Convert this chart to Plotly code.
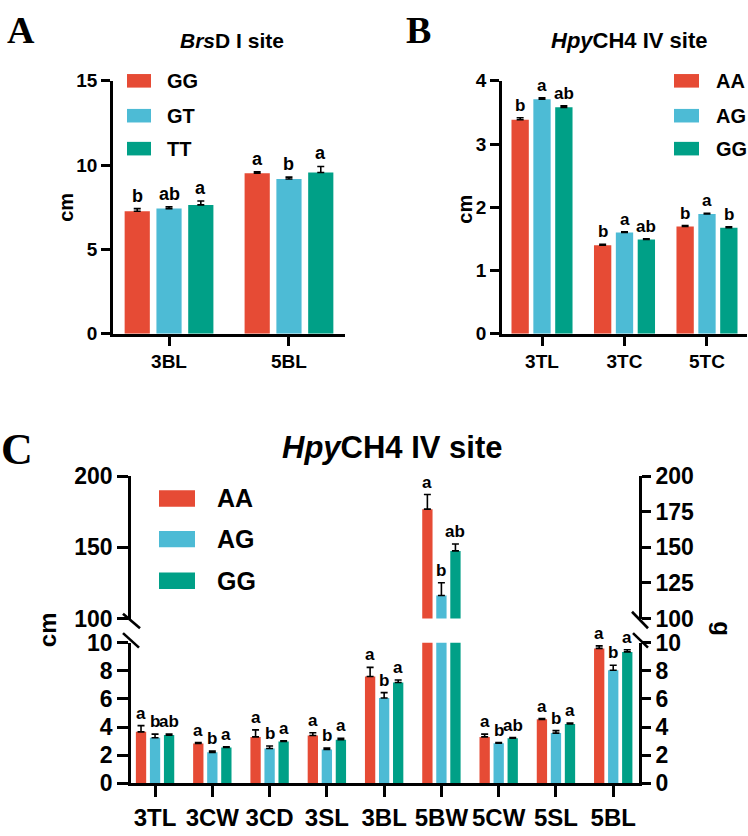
import plotly.graph_objects as go

# ---------------- data ----------------
colors = ["#E64B35", "#4DBBD5", "#00A087"]

# Panel A: BrsD I site
cats_A = ["3BL", "5BL"]
geno_A = ["GG", "GT", "TT"]
mean_A_GG = [7.26, 9.52]
mean_A_GT = [7.42, 9.18]
mean_A_TT = [7.64, 9.56]
err_A_GG = [0.16, 0.08]
err_A_GT = [0.11, 0.11]
err_A_TT = [0.23, 0.36]
let_A_GG = ["b", "a"]
let_A_GT = ["ab", "b"]
let_A_TT = ["a", "a"]

# Panel B: HpyCH4 IV site
cats_B = ["3TL", "3TC", "5TC"]
geno_B = ["AA", "AG", "GG"]
mean_B_AA = [3.385, 1.40, 1.695]
mean_B_AG = [3.71, 1.60, 1.895]
mean_B_GG = [3.58, 1.49, 1.675]
err_B_AA = [0.03, 0.015, 0.015]
err_B_AG = [0.02, 0.01, 0.01]
err_B_GG = [0.025, 0.01, 0.015]
let_B_AA = ["b", "b", "b"]
let_B_AG = ["a", "a", "a"]
let_B_GG = ["ab", "ab", "b"]

# Panel C: HpyCH4 IV site
cats_C = ["3TL", "3CW", "3CD", "3SL", "3BL", "5BW", "5CW", "5SL", "5BL"]
geno_C = ["AA", "AG", "GG"]
mean_C_AA = [3.66, 2.83, 3.30, 3.40, 7.60, 176.8, 3.30, 4.55, 9.60]
mean_C_AG = [3.24, 2.20, 2.47, 2.40, 6.07, 116.2, 2.85, 3.57, 8.05]
mean_C_GG = [3.43, 2.55, 2.97, 3.10, 7.17, 147.5, 3.20, 4.22, 9.35]
err_C_AA = [0.44, 0.07, 0.50, 0.20, 0.65, 10.3, 0.20, 0.05, 0.18]
err_C_AG = [0.26, 0.10, 0.18, 0.10, 0.38, 8.9, 0.05, 0.18, 0.35]
err_C_GG = [0.07, 0.05, 0.06, 0.10, 0.18, 4.8, 0.05, 0.06, 0.15]
let_C_AA = ["a", "a", "a", "a", "a", "a", "a", "a", "a"]
let_C_AG = ["b", "b", "b", "b", "b", "b", "b", "b", "b"]
let_C_GG = ["ab", "a", "a", "a", "a", "ab", "ab", "a", "a"]

# ---------------- helpers ----------------
W, H = 748, 836
def px(p):
    return p / W
def py(p):
    return 1 - p / H

FONT = "Liberation Sans, Arial, sans-serif"
SERIF = "Liberation Serif, Times New Roman, serif"

fig = go.Figure()
annotations = []
shapes = []

def add_panel(cats, genos, means, errs, lets, xa, ya, bar_w, slot, fsize, extra_axes=None, seg=None):
    n = len(cats)
    start = -(slot * (len(genos) - 1) + bar_w) / 2
    for i, (g, m, e, l) in enumerate(zip(genos, means, errs, lets)):
        off = start + i * slot
        axes_list = [(xa, ya)] + (extra_axes or [])
        for (xx, yy) in axes_list:
            fig.add_trace(go.Bar(
                x=cats, y=m, name=g, width=bar_w, offset=off,
                marker=dict(color=colors[i], line=dict(width=0)),
                error_y=dict(type="data", array=e, arrayminus=[0] * n, symmetric=False,
                             color="black", thickness=1.6, width=3.5),
                xaxis=xx, yaxis=yy, showlegend=False, hoverinfo="skip"))
        for j in range(n):
            top = m[j] + e[j]
            xr, yr = xa, ya
            if seg is not None:
                xr, yr = seg(top)
            annotations.append(dict(
                x=j + (i - 1) * slot, y=top, xref=xr, yref=yr,
                text="<b>%s</b>" % l[j], showarrow=False, yanchor="bottom",
                yshift=1, font=dict(family=FONT, size=fsize, color="black")))

def legend(genos, x0, x1, ys, h, tx, fsize):
    for i, g in enumerate(genos):
        shapes.append(dict(type="rect", xref="paper", yref="paper",
                           x0=px(x0), x1=px(x1), y0=py(ys[i] + h / 2), y1=py(ys[i] - h / 2),
                           fillcolor=colors[i], line=dict(width=0)))
        annotations.append(dict(x=px(tx), y=py(ys[i]), xref="paper", yref="paper",
                                text="<b>%s</b>" % g, showarrow=False, xanchor="left",
                                yanchor="middle", font=dict(family=FONT, size=fsize, color="black")))

# Panel A
add_panel(cats_A, geno_A, [mean_A_GG, mean_A_GT, mean_A_TT], [err_A_GG, err_A_GT, err_A_TT],
          [let_A_GG, let_A_GT, let_A_TT], "x", "y", 0.21, 0.265, 18)
# Panel B
add_panel(cats_B, geno_B, [mean_B_AA, mean_B_AG, mean_B_GG], [err_B_AA, err_B_AG, err_B_GG],
          [let_B_AA, let_B_AG, let_B_GG], "x2", "y2", 0.21, 0.265, 17)
# Panel C (broken axis: lower x3/y3, upper x4/y5)
add_panel(cats_C, geno_C, [mean_C_AA, mean_C_AG, mean_C_GG], [err_C_AA, err_C_AG, err_C_GG],
          [let_C_AA, let_C_AG, let_C_GG], "x3", "y3", 0.18, 0.245, 17,
          extra_axes=[("x4", "y5")],
          seg=lambda t: ("x3", "y3") if t <= 10 else ("x4", "y5"))
# dummy traces so right-hand axes are drawn
fig.add_trace(go.Scatter(x=cats_C, y=[None] * len(cats_C), xaxis="x3", yaxis="y4",
                         showlegend=False, hoverinfo="skip"))
fig.add_trace(go.Scatter(x=cats_C, y=[None] * len(cats_C), xaxis="x4", yaxis="y6",
                         showlegend=False, hoverinfo="skip"))

line = dict(showline=True, linecolor="black", linewidth=2.6, showgrid=False, zeroline=False,
            ticks="outside", tickcolor="black", tickwidth=2.6)

def tf(size, fam=FONT):
    return dict(family=fam, size=size, color="black", weight="bold")

fig.update_layout(
    width=W, height=H, margin=dict(l=0, r=0, t=0, b=0),
    plot_bgcolor="white", paper_bgcolor="white", barmode="overlay",
    xaxis=dict(domain=[px(113), px(345)], anchor="y", type="category",
               range=[-0.467, 1.467], ticklen=9, tickfont=tf(19), **line),
    yaxis=dict(domain=[py(331), py(70)], anchor="x", range=[0, 15], dtick=5,
               ticklen=9, tickfont=tf(19), **line),
    xaxis2=dict(domain=[px(502), px(747)], anchor="y2", type="category",
                range=[-0.485, 2.485], ticklen=9, tickfont=tf(19), **line),
    yaxis2=dict(domain=[py(331), py(70)], anchor="x2", range=[0, 4], dtick=1,
                ticklen=9, tickfont=tf(19), **line),
    xaxis3=dict(domain=[px(131), px(639)], anchor="y3", type="category",
                range=[-0.42, 8.45], ticklen=11, tickangle=0, tickfont=tf(24), **line),
    yaxis3=dict(domain=[py(795), py(650)], anchor="x3", range=[0, 10], dtick=2,
                ticklen=11, tickfont=tf(23), **line),
    yaxis4=dict(overlaying="y3", side="right", anchor="x3", range=[0, 10], dtick=2,
                ticklen=9, tickfont=tf(23), **line),
    xaxis4=dict(domain=[px(131), px(639)], anchor="y5", type="category",
                range=[-0.42, 8.45], visible=False),
    yaxis5=dict(domain=[py(625), py(478)], anchor="x4", range=[100, 200],
                tickvals=[100, 150, 200], ticklen=11, tickfont=tf(23), **line),
    yaxis6=dict(overlaying="y5", side="right", anchor="x4", range=[100, 200], dtick=25,
                ticklen=9, tickfont=tf(23), **line),
)

# legends
legend(geno_A, 127, 151, [70, 106, 140], 14, 165, 20)
legend(geno_B, 674, 699, [70, 106, 140], 14, 714, 20)
legend(geno_C, 159, 195, [501, 543, 586], 17, 215, 25)

# titles, axis titles, panel letters
def ann(x, y, text, size, fam=FONT, angle=0):
    annotations.append(dict(x=px(x), y=py(y), xref="paper", yref="paper", text=text,
                            showarrow=False, xanchor="center", yanchor="middle", textangle=angle,
                            font=dict(family=fam, size=size, color="black")))

ann(232, 28, "<b><i>Brs</i>D I site</b>", 21)
ann(629, 28, "<b><i>Hpy</i>CH4 IV site</b>", 22)
ann(392, 448, "<b><i>Hpy</i>CH4 IV site</b>", 31)
ann(66, 201, "<b>cm</b>", 20, angle=-90)
ann(465, 203, "<b>cm</b>", 20, angle=-90)
ann(47, 637, "<b>cm</b>", 24, angle=-90)
ann(723, 635, "<b>g</b>", 24, angle=90)
ann(21, 18, "<b>A</b>", 38, SERIF)
ann(418, 18, "<b>B</b>", 38, SERIF)
ann(17, 451, "<b>C</b>", 44, SERIF)

# axis break marks
for (x0, y0, x1, y1) in [(123, 620, 140, 635), (123, 640, 139, 655),
                         (632, 618, 648, 635), (633, 640, 648, 655)]:
    shapes.append(dict(type="line", xref="paper", yref="paper",
                       x0=px(x0), y0=py(y0), x1=px(x1), y1=py(y1),
                       line=dict(color="black", width=2.6)))

fig.update_layout(annotations=annotations, shapes=shapes)
fig.write_html("out.html", config={"displayModeBar": False},
               post_script="document.body.style.margin='0';document.body.style.overflow='hidden';")
